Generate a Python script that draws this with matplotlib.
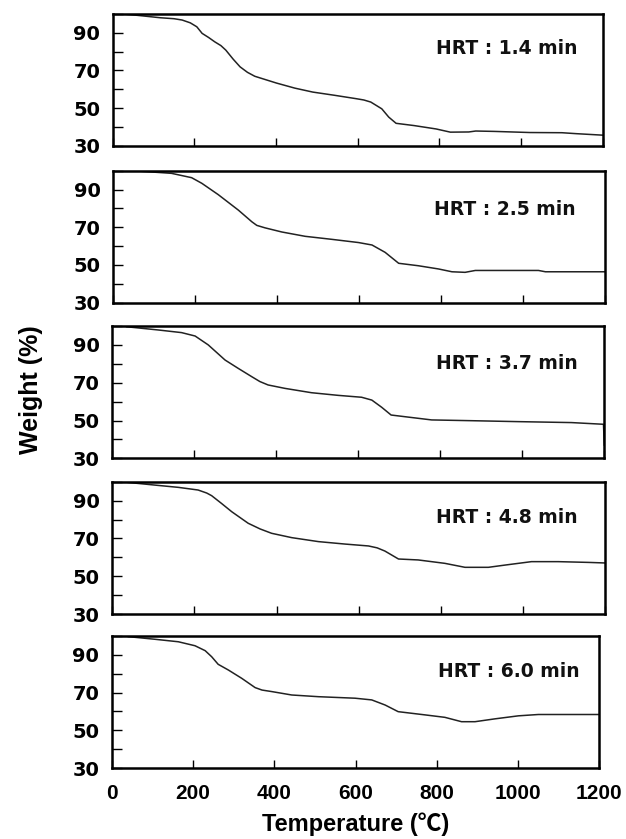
import matplotlib
matplotlib.use("Agg")
import matplotlib.pyplot as plt

# ---- data ----
hrt_labels = ["HRT : 1.4 min", "HRT : 2.5 min", "HRT : 3.7 min", "HRT : 4.8 min", "HRT : 6.0 min"]

t1 = [25, 60, 117, 150, 170, 190, 206, 219, 235, 250, 265, 277, 295, 312, 330, 348, 401, 446, 490, 543, 596, 615, 632, 659, 676, 694,
      738, 792, 827, 872, 889, 934, 1022, 1100, 1135, 1200]
w1 = [100, 99.3, 98, 97.5, 96.8, 95.3, 93.2, 89.7, 87.5, 85.2, 83.2, 80.8, 76.0, 71.9, 69.0, 66.9, 63.3, 60.6, 58.5, 56.8, 55, 54.3, 53.2, 49.6, 45.2, 41.9,
      40.7, 38.9, 37.2, 37.3, 37.8, 37.6, 37.0, 36.9, 36.4, 35.6]

t2 = [61, 142, 191, 216, 256, 305, 338, 350, 370, 411, 468, 533, 598, 631, 663, 696, 744, 793, 826, 858, 883,
      956, 1037, 1054, 1200]
w2 = [99.8, 98.6, 96.3, 93.3, 87.3, 79.1, 72.9, 71.0, 69.7, 67.5, 65.2, 63.6, 61.9, 60.6, 56.7, 50.9, 49.6, 47.9, 46.4, 46.1, 47.1,
      47.1, 47.1, 46.4, 46.4]

t3 = [35, 112, 169, 202, 234, 275, 307, 340, 360, 380, 421, 486, 551, 608, 633, 657, 680, 714, 779, 876, 990,
      1120, 1198, 1200]
w3 = [99.6, 97.9, 96.5, 94.7, 90.0, 82.0, 77.6, 73.2, 70.6, 68.8, 67.0, 64.7, 63.3, 62.3, 60.8, 57.0, 52.9, 52.0, 50.3, 49.9, 49.4,
      48.9, 48.0, 37.0]

t4 = [39, 104, 161, 209, 230, 242, 266, 291, 331, 360, 388, 437, 502, 567, 624, 645, 664, 697, 745, 810, 859, 916, 957,
      1021, 1086, 1160, 1200]
w4 = [99.6, 98.2, 97.0, 95.6, 94.0, 92.6, 88.5, 84.1, 78.0, 75.0, 72.7, 70.4, 68.3, 67.0, 66.0, 65.0, 63.3, 59.1, 58.6, 56.8, 54.7, 54.7, 55.9,
      57.7, 57.7, 57.3, 57.0]

t5 = [41, 107, 164, 205, 230, 246, 262, 287, 320, 353, 370, 394, 443, 509, 599, 640, 673, 705, 771, 820, 861,
      894, 943, 1001, 1050, 1200]
w5 = [99.5, 98.1, 96.8, 94.7, 92.1, 88.9, 84.9, 81.9, 77.5, 72.6, 71.3, 70.5, 68.7, 67.8, 67.0, 66.1, 63.4, 59.9, 58.2, 56.9, 54.6,
      54.6, 56.1, 57.7, 58.4, 58.4]

series_t = [t1, t2, t3, t4, t5]
series_w = [w1, w2, w3, w4, w5]

x_ticks = [0, 200, 400, 600, 800, 1000, 1200]
y_ticks = [30, 40, 50, 60, 70, 80, 90, 100]
y_ticklabels = ["30", "", "50", "", "70", "", "90", ""]

# ---- layout ----
W, H = 626, 839
fig = plt.figure(figsize=(W / 100, H / 100), dpi=100)

# panel boxes in pixels: left, top, right, bottom
boxes = [
    (112.7, 14.0, 602.7, 145.7),
    (113.3, 170.7, 605.3, 302.7),
    (112.3, 326.0, 604.3, 458.3),
    (112.3, 481.7, 605.0, 614.0),
    (111.7, 635.7, 599.3, 768.3),
]
text_pos = [(0.660, 0.736), (0.652, 0.708), (0.658, 0.718), (0.658, 0.726), (0.669, 0.731)]

xfont = ["Liberation Sans", "Noto Sans CJK KR", "DejaVu Sans"]

for i, (l, t, r, b) in enumerate(boxes):
    ax = fig.add_axes([l / W, (H - b) / H, (r - l) / W, (b - t) / H])
    ax.plot(series_t[i], series_w[i], color="#222222", lw=1.1, solid_joinstyle="round")
    ax.set_xlim(0, 1200)
    ax.set_ylim(30, 100)
    ax.set_xticks(x_ticks)
    ax.set_yticks(y_ticks)
    ax.set_yticklabels(y_ticklabels, fontfamily="DejaVu Sans", fontweight="bold", fontsize=14)
    ax.tick_params(axis="y", direction="in", length=7, width=1, pad=9)
    ax.tick_params(axis="x", direction="in", length=6, width=1, pad=11)
    for sp in ax.spines.values():
        sp.set_linewidth(1.8)
        sp.set_color("black")
    if i < 4:
        ax.set_xticklabels([])
    else:
        ax.set_xticklabels([str(v) for v in x_ticks], fontfamily=xfont, fontweight="bold", fontsize=15)
        ax.set_xlabel("Temperature (\u2103)", fontfamily=xfont, fontweight="bold", fontsize=17, labelpad=7)
    ax.text(text_pos[i][0], text_pos[i][1], hrt_labels[i], transform=ax.transAxes,
            ha="left", va="center", fontfamily="DejaVu Sans", fontweight="bold", fontsize=13.5, color="#111111")

fig.text(31 / W, (H - 390) / H, "Weight (%)", rotation=90, ha="center", va="center",
         fontfamily=xfont, fontweight="bold", fontsize=18)

fig.savefig("out.png", dpi=100)
